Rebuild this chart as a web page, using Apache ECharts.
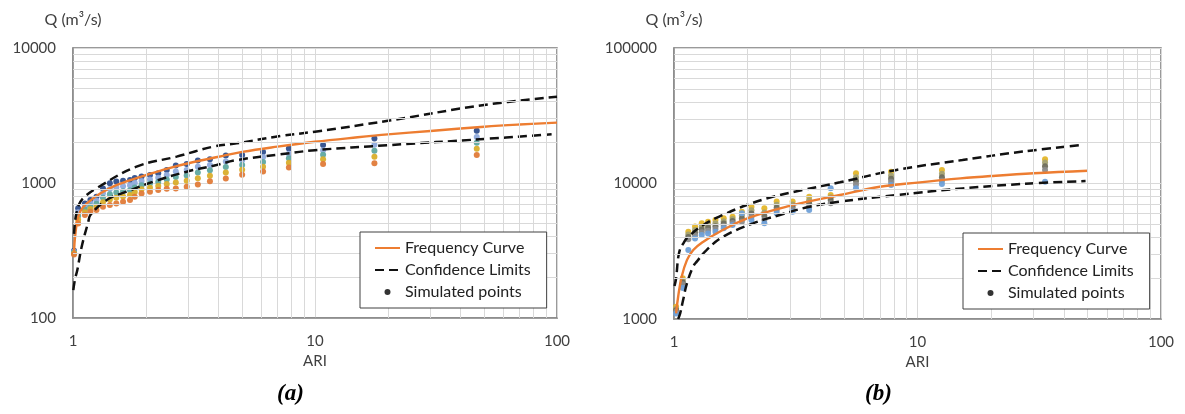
<!DOCTYPE html>
<html><head><meta charset="utf-8">
<script src="https://cdn.jsdelivr.net/npm/echarts@6/dist/echarts.min.js"></script>
<style>html,body{margin:0;padding:0;background:#fff}#c{width:1185px;height:414px}</style>
</head><body><div id="c"></div>
<script>
// ---------- Panel (a) ----------
const freqA_ari = [1.01, 1.02, 1.05, 1.1, 1.2, 1.3, 1.5, 1.7, 2, 2.5, 3, 4, 5, 7, 10, 15, 20, 30, 50, 70, 100];
const freqA_q   = [310, 400, 563, 660, 760, 840, 960, 1040, 1145, 1290, 1400, 1566, 1700, 1860, 2020, 2180, 2290, 2430, 2610, 2710, 2800];
const upperA_ari = [1.01, 1.02, 1.035, 1.05, 1.1, 1.25, 1.83, 2.68, 3.79, 4.75, 7.2, 10, 20, 50, 100];
const upperA_q   = [420, 520, 610, 670, 770, 914, 1322, 1568, 1858, 1968, 2230, 2400, 2890, 3785, 4360];
const lowerA_ari = [1.003, 1.02, 1.042, 1.086, 1.157, 1.18, 1.378, 1.665, 2.15, 2.95, 3.92, 4.75, 7.2, 10, 20, 50, 95];
const lowerA_q   = [161, 195, 227, 337, 517, 580, 748, 862, 1024, 1213, 1359, 1479, 1630, 1750, 1905, 2118, 2297];
const simA_ari = [46.6, 17.6, 10.8, 7.8, 6.1, 5.0, 4.28, 3.68, 3.28, 2.95, 2.66, 2.44, 2.25, 2.08, 1.92, 1.80, 1.72, 1.61, 1.51, 1.42, 1.33, 1.25, 1.18, 1.12, 1.05, 1.01];
const simA1 = [2440, 2140, 1910, 1800, 1700, 1610, 1600, 1500, 1470, 1380, 1350, 1250, 1180, 1146, 1117, 1090, 1053, 1040, 1024, 995, 912, 792, 748, 706, 650, 315];
const simA2 = [2191, 1918, 1751, 1650, 1555, 1472, 1444, 1359, 1322, 1248, 1219, 1147, 1092, 1061, 1033, 1000, 962, 946, 929, 903, 839, 743, 707, 668, 606, 309];
const simA3 = [1984, 1733, 1619, 1525, 1433, 1357, 1314, 1242, 1198, 1138, 1109, 1060, 1019, 990, 963, 925, 885, 868, 849, 826, 777, 703, 673, 637, 569, 304];
const simA4 = [1793, 1563, 1497, 1410, 1322, 1251, 1194, 1133, 1084, 1037, 1008, 981, 951, 924, 899, 856, 815, 796, 776, 755, 721, 666, 642, 608, 535, 300];
const simA5 = [1610, 1400, 1380, 1300, 1215, 1150, 1080, 1030, 975, 940, 912, 905, 887, 862, 837, 790, 748, 727, 706, 687, 667, 630, 612, 580, 502, 295];

// ---------- Panel (b) ----------
const freqB_ari = [1.02, 1.04, 1.075, 1.13, 1.2, 1.32, 1.54, 2, 2.9, 4.8, 7, 10, 15, 20, 30, 50];
const freqB_q   = [1100, 1460, 2050, 2720, 3230, 3720, 4400, 5530, 6750, 8220, 9460, 10150, 10900, 11350, 11900, 12420];
const upperB_ari = [1.005, 1.02, 1.05, 1.1, 1.145, 1.32, 1.59, 1.99, 2.56, 3.38, 4.8, 8.2, 15.3, 27, 47];
const upperB_q   = [1750, 2000, 3100, 3700, 4045, 4945, 5860, 6935, 8000, 8960, 10200, 12600, 14900, 17200, 19200];
const lowerB_ari = [1.04, 1.06, 1.09, 1.13, 1.2, 1.24, 1.36, 1.59, 2.11, 2.72, 3.61, 4.8, 8.2, 15.3, 29, 49];
const lowerB_q   = [1000, 1100, 1380, 1830, 2450, 2650, 3228, 4045, 5080, 5860, 6745, 7350, 8220, 9200, 10000, 10420];
const simB_ari = [33.4, 12.6, 7.79, 5.59, 4.40, 3.59, 3.07, 2.64, 2.35, 2.08, 1.90, 1.74, 1.60, 1.48, 1.38, 1.30, 1.22, 1.145, 1.086, 1.02];
const simB1 = [15100, 12600, 12200, 11900, 8220, 8000, 7350, 7350, 6560, 6750, 6200, 5690, 5530, 5380, 5230, 5080, 4810, 4400, 2000, 1230];
const simB2 = [14300, 11790, 11465, 11099, 7900, 7511, 7005, 6957, 6116, 6339, 5822, 5465, 5272, 5086, 4945, 4804, 4546, 4196, 1925, 1190];
const simB3 = [13400, 11115, 10853, 10432, 7550, 7104, 6718, 6630, 5746, 5997, 5507, 5277, 5057, 4841, 4707, 4574, 4326, 4026, 1862, 1160];
const simB4 = [12600, 10494, 10289, 9817, 7140, 6729, 6453, 6328, 5406, 5681, 5217, 5105, 4859, 4616, 4489, 4362, 4124, 3870, 1805, 1130];
const simB5 = [10300, 9900, 9750, 9230, 9230, 6370, 6200, 6040, 5080, 5380, 6040, 4940, 4670, 4400, 4280, 4160, 3930, 3230, 1690, 1100];

// ---------- grid (minor) values ----------
const xMinor = [2, 3, 4, 5, 6, 7, 8, 9, 20, 30, 40, 50, 60, 70, 80, 90];
const yMinorA = [200, 300, 400, 500, 600, 700, 800, 900, 2000, 3000, 4000, 5000, 6000, 7000, 8000, 9000];
const yMinorB = [2000, 3000, 4000, 5000, 6000, 7000, 8000, 9000, 20000, 30000, 40000, 50000, 60000, 70000, 80000, 90000];
const legendNames = ['Frequency Curve', 'Confidence Limits', 'Simulated points'];

const simColorsA = ['#2F4E8C', '#8FAADC', '#5FA8A0', '#D9AE2C', '#E07B39'];
const simColorsB = ['#E4B62A', '#A3A172', '#6F6E5E', '#8C8C8C', '#6FA0D8'];

const FONT = 'Lato';
const zip = (xs, ys) => xs.map((x, i) => [x, ys[i]]);

function gridSeries(idx, yMinor) {
  return {
    type: 'line', name: 'grid' + idx, xAxisIndex: idx, yAxisIndex: idx, data: [], z: 0, silent: true,
    markLine: {
      silent: true, symbol: ['none', 'none'], label: { show: false }, animation: false,
      lineStyle: { color: '#d9d9d9', type: 'solid', width: 1 },
      emphasis: { disabled: true },
      data: xMinor.map(v => ({ xAxis: v })).concat(yMinor.map(v => ({ yAxis: v })))
    }
  };
}
function lineSeries(idx, name, xs, ys, style) {
  return { type: 'line', name, xAxisIndex: idx, yAxisIndex: idx, data: zip(xs, ys), smooth: 0.4,
    showSymbol: false, symbol: 'none', lineStyle: style, itemStyle: { color: style.color }, z: 4, animation: false };
}
function simSeries(idx, tag, xs, arrays, colors) {
  return arrays.map((ys, k) => ({
    type: 'scatter', name: tag + k, xAxisIndex: idx, yAxisIndex: idx, data: zip(xs, ys),
    symbolSize: 6, itemStyle: { color: colors[k], opacity: 0.95 }, z: 3, animation: false
  }));
}
const freqStyle = { color: '#ED7D31', width: 2.4, type: 'solid' };
const confStyle = { color: '#111', width: 2.5, type: [9, 5] };

const axisLabel = { color: '#404040', fontSize: 15, fontFamily: FONT, formatter: v => String(Math.round(v)) };
function xAxis(idx) {
  return { type: 'log', logBase: 10, gridIndex: idx, min: 1, max: 100,
    name: 'ARI', nameLocation: 'middle', nameGap: 35,
    nameTextStyle: { color: '#404040', fontSize: 15, fontFamily: FONT },
    axisLine: { show: true, lineStyle: { color: '#8a8a8a', width: 1.5 } }, axisTick: { show: false },
    axisLabel: Object.assign({ margin: 16 }, axisLabel),
    splitLine: { show: true, lineStyle: { color: '#d9d9d9', width: 1 } } };
}
function yAxis(idx, min, max) {
  return { type: 'log', logBase: 10, gridIndex: idx, min, max,
    name: 'Q (m\u00b3/s)', nameLocation: 'end', nameGap: 20,
    nameTextStyle: { color: '#404040', fontSize: 16, fontFamily: FONT, align: 'center', verticalAlign: 'bottom' },
    axisLine: { show: true, lineStyle: { color: '#8a8a8a', width: 1.5 } }, axisTick: { show: false },
    axisLabel: Object.assign({ margin: 17 }, axisLabel),
    splitLine: { show: true, lineStyle: { color: '#d9d9d9', width: 1 } } };
}
const hiddenDot = { color: 'transparent', borderWidth: 0, opacity: 0 };
function legend(left, top) {
  return {
    data: [
      { name: legendNames[0], itemStyle: hiddenDot },
      { name: legendNames[1], itemStyle: hiddenDot },
      { name: legendNames[2] }
    ],
    left, top, orient: 'vertical', itemWidth: 25, itemHeight: 6, itemGap: 6,
    padding: [8, 16, 8, 14], borderColor: '#404040', borderWidth: 1, backgroundColor: '#fff',
    selectedMode: false, textStyle: { fontSize: 16, color: '#222', fontFamily: FONT }, z: 10 };
}

const series = [
  gridSeries(0, yMinorA), gridSeries(1, yMinorB),
  ...simSeries(0, 'simA', simA_ari, [simA1, simA2, simA3, simA4, simA5], simColorsA),
  ...simSeries(1, 'simB', simB_ari, [simB1, simB2, simB3, simB4, simB5], simColorsB),
  lineSeries(0, 'Frequency Curve', freqA_ari, freqA_q, freqStyle),
  lineSeries(0, 'Confidence Limits', upperA_ari, upperA_q, confStyle),
  lineSeries(0, 'Confidence Limits', lowerA_ari, lowerA_q, confStyle),
  lineSeries(1, 'Frequency Curve', freqB_ari, freqB_q, freqStyle),
  lineSeries(1, 'Confidence Limits', upperB_ari, upperB_q, confStyle),
  lineSeries(1, 'Confidence Limits', lowerB_ari, lowerB_q, confStyle),
  { type: 'scatter', name: 'Simulated points', xAxisIndex: 0, yAxisIndex: 0, data: [], itemStyle: { color: '#000' } }
];

const chart = echarts.init(document.getElementById('c'), null, { renderer: 'canvas' });
chart.setOption({
  backgroundColor: '#fff',
  animation: false,
  grid: [
    { left: 73, top: 48, width: 484, height: 270, show: true, borderColor: '#7a7a7a', borderWidth: 1.5, backgroundColor: 'transparent' },
    { left: 674, top: 48, width: 487, height: 271, show: true, borderColor: '#7a7a7a', borderWidth: 1.5, backgroundColor: 'transparent' }
  ],
  xAxis: [xAxis(0), xAxis(1)],
  yAxis: [yAxis(0, 100, 10000), yAxis(1, 1000, 100000)],
  legend: [legend(360, 232), legend(963, 233)],
  graphic: [
    { type: 'text', left: 277, top: 383, style: { text: '(a)', font: 'italic bold 23px "Liberation Serif"', fill: '#000' } },
    { type: 'text', left: 865, top: 383, style: { text: '(b)', font: 'italic bold 23px "Liberation Serif"', fill: '#000' } }
  ],
  series
});
</script></body></html>
